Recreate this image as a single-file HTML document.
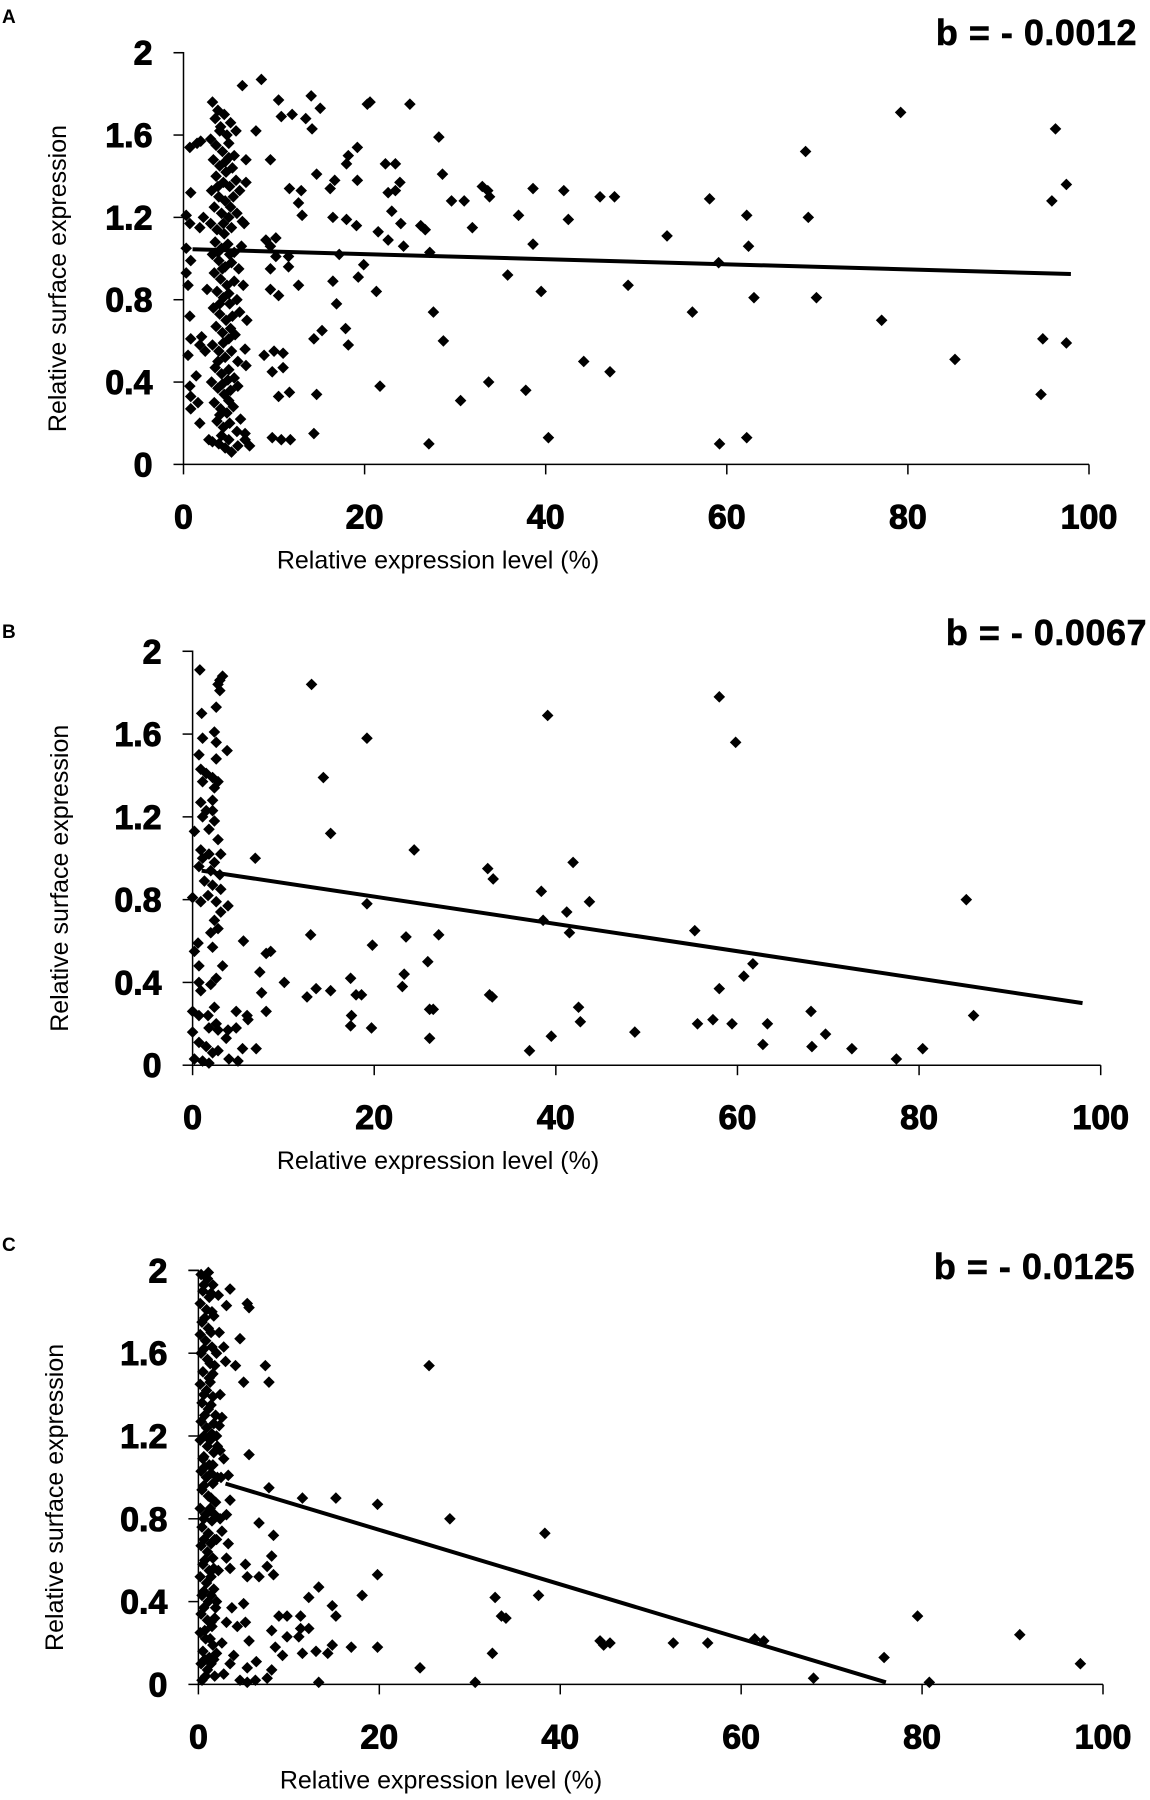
<!DOCTYPE html>
<html><head><meta charset="utf-8">
<style>
html,body{margin:0;padding:0;background:#fff;}
svg{display:block;font-family:"Liberation Sans",Arial,sans-serif;}
</style></head>
<body>
<svg id="fig" width="1150" height="1800" viewBox="0 0 1150 1800" xmlns="http://www.w3.org/2000/svg"></svg>
<script>
const xTicks = [0,20,40,60,80,100];
const yTicks = [0,0.4,0.8,1.2,1.6,2];
const yTickLabels = ["0","0.4","0.8","1.2","1.6","2"];
const panelLetters = ["A","B","C"];
const slopeLabels = ["b = - 0.0012","b = - 0.0067","b = - 0.0125"];
const lineA = [[1,1.045],[98,0.925]];
const lineB = [[1,0.94],[98,0.30]];
const lineC = [[3,0.97],[76,0.01]];

const pointsA = [[8.6,1.87],[6.5,1.84],[10.5,1.77],[10.8,1.69],[12,1.70],[14.1,1.79],[15.1,1.73],[13.5,1.68],[14.2,1.63],[8,1.62],[9.6,1.48],[6.9,1.48],[20.3,1.75],[20.6,1.76],[19.2,1.54],[18.2,1.50],[18,1.46],[22.3,1.46],[23.4,1.46],[14.7,1.41],[16.7,1.38],[16.2,1.34],[11.7,1.34],[13,1.33],[12.7,1.27],[13.1,1.21],[19.2,1.38],[22.6,1.32],[16.5,1.20],[18,1.19],[19.1,1.16],[21.5,1.13],[22.6,1.09],[6.7,1.17],[9.1,1.09],[10.2,1.10],[9.6,1.06],[10.2,1.01],[11.6,1.01],[11.6,0.96],[9.6,0.95],[17.2,1.02],[19.9,0.97],[19.3,0.91],[21.3,0.84],[16.5,0.89],[12.7,0.87],[10.5,0.82],[9.6,0.85],[16.9,0.78],[17.9,0.66],[15.3,0.65],[14.4,0.61],[18.2,0.58],[8.9,0.53],[10,0.55],[11,0.54],[11,0.47],[9.8,0.45],[6.9,0.48],[10.5,0.33],[11.7,0.35],[14.7,0.34],[21.7,0.38],[9.8,0.13],[10.8,0.12],[11.8,0.12],[14.4,0.15],
[23.9,1.37],[25,1.75],[28.2,1.59],[28.6,1.41],[29.6,1.28],[31,1.28],[23.4,1.33],[26.7,1.14],[26.2,1.16],[27.2,1.03],[24.3,1.06],[23,1.23],[24,1.17],[27.6,0.74],[28.7,0.60],[33,1.35],[33.6,1.33],[33.8,1.30],[31.9,1.15],[35.8,0.92],[37,1.21],[39.5,0.84],[38.6,1.34],[42,1.33],[42.5,1.19],[38.6,1.07],[46,1.30],[47.6,1.30],[49.1,0.87],[44.2,0.50],[47.1,0.45],[30.6,0.31],[33.7,0.40],[37.8,0.36],[27.1,0.10],[40.3,0.13],[53.4,1.11],[56.2,0.74],[58.1,1.29],[59.1,0.98],[59.2,0.10],[62.2,1.21],[62.4,1.06],[62.2,0.13],[63,0.81],[68.7,1.52],[69,1.20],[69.9,0.81],[77.1,0.70],[79.2,1.71],[85.2,0.51],[94.7,0.34],[94.9,0.61],[96.3,1.63],[95.9,1.28],[97.5,1.36],[97.5,0.59],
[0.7,1.54],[0.8,1.32],[0.3,1.21],[0.7,1.17],[1.8,1.15],[0.3,1.05],[0.8,0.99],[0.3,0.93],[0.5,0.87],[0.7,0.72],[0.8,0.61],[1.8,0.58],[0.5,0.53],[0.7,0.38],[0.8,0.33],[0.8,0.27],[1.8,0.20],[1.4,0.43],[1.9,1.57],
[3.2,1.76],[3.8,1.72],[4.5,1.70],[5.2,1.66],[5.8,1.62],[3.5,1.68],[4.1,1.64],[4.8,1.60],[3.0,1.58],[3.6,1.55],[4.3,1.52],[5.0,1.56],[5.6,1.50],[3.3,1.48],[4.0,1.45],[4.7,1.42],[5.4,1.44],[3.6,1.40],[4.4,1.37],[5.1,1.35],[5.8,1.38],[3.1,1.33],[3.9,1.30],[4.6,1.28],[5.5,1.30],[6.2,1.33],[3.4,1.25],[4.2,1.22],[5.0,1.20],[5.9,1.22],[3.0,1.17],[3.7,1.14],[4.5,1.12],[5.3,1.15],[6.5,1.18],[3.5,1.08],[4.2,1.05],[4.9,1.07],[5.6,1.03],[6.4,1.06],[3.2,1.02],[3.9,0.99],[4.6,0.96],[5.3,0.98],[6.1,0.95],[3.4,0.93],[4.1,0.90],[4.8,0.87],[5.6,0.89],[6.6,0.87],[3.7,0.84],[4.4,0.81],[5.1,0.78],[5.9,0.80],[3.3,0.76],[4.0,0.73],[4.7,0.70],[5.4,0.72],[6.2,0.74],[3.6,0.67],[4.3,0.64],[5.0,0.61],[5.7,0.63],[3.2,0.58],[3.9,0.55],[4.6,0.52],[5.3,0.55],[6.0,0.50],[3.5,0.47],[4.2,0.44],[4.9,0.41],[5.6,0.42],[3.1,0.40],[3.8,0.37],[4.5,0.34],[5.2,0.36],[6.0,0.38],[3.4,0.30],[4.1,0.27],[4.8,0.25],[5.5,0.28],[6.3,0.22],[3.7,0.21],[4.4,0.18],[5.1,0.20],[5.9,0.16],[6.8,0.15],[3.2,0.11],[3.9,0.10],[4.6,0.08],[5.3,0.06],[6.0,0.09],[6.8,0.12],[7.3,0.09],[2.8,0.12],[1.5,1.56],[2.2,1.20],[2.6,0.85],[2.4,0.55],[1.6,0.30],[2.0,0.62],[6.9,1.37],[7.0,0.70],[6.8,0.56],
[4.0,1.62],[4.6,1.47],[3.8,1.35],[4.4,1.17],[3.8,1.03],[4.3,0.95],[4.0,0.78],[4.4,0.59],[3.8,0.50],[4.3,0.39],[4.0,0.24],[4.2,0.14],[5.0,1.49],[5.2,1.25],[5.1,1.02],[5.0,0.83],[5.2,0.66],[5.0,0.46],[5.0,0.31],[5.0,0.12]];

const pointsB = [[0.8,1.91],[3.3,1.88],[3,1.86],[2.8,1.84],[3,1.81],[1,1.70],[2.6,1.73],[1.1,1.58],[2.4,1.61],[2.6,1.56],[3.8,1.52],[0.7,1.50],[2.6,1.48],[0.9,1.43],[1.5,1.41],[2.2,1.39],[2.8,1.37],[1.1,1.37],[2.4,1.34],[2.2,1.28],[0.9,1.27],[1.5,1.23],[2.2,1.23],[1.1,1.20],[2.4,1.18],[1.8,1.14],[0.2,1.13],[2.8,1.09],[0.9,1.04],[1.8,1.02],[3.1,1.02],[1.1,1.00],[2.4,0.98],[0.7,0.96],[2,0.94],[3,0.92],[1.3,0.89],[2.2,0.87],[3.1,0.85],[0,0.81],[0.9,0.79],[1.7,0.82],[2.6,0.79],[3.9,0.77],[3.1,0.74],[2.4,0.70],[2.8,0.66],[2,0.64],[0.6,0.59],[2.2,0.57],[0.2,0.55],[0.7,0.48],[3.3,0.48],[2.6,0.42],[2,0.39],[0.7,0.40],[0.9,0.36],[0,0.26],[0.7,0.24],[1.7,0.24],[2.4,0.28],[2.6,0.20],[1.8,0.18],[2.8,0.17],[0,0.16],[3.9,0.17],[3.7,0.13],[0.7,0.11],[1.5,0.09],[2.2,0.06],[0.2,0.03],[1.1,0.02],[1.8,0.01],[2.8,0.07],[4,0.03],[4.8,0.26],[6,0.24],[6.1,0.22],[4.8,0.18],[5,0.02],[5.5,0.08],[7,0.08],[5.6,0.60],[6.9,1.00],[8.1,0.54],[8.6,0.55],[7.6,0.35],[8.1,0.26],
[13.1,1.84],[14.4,1.39],[15.2,1.12],[19.2,1.58],[19.2,0.78],[13,0.63],[10.1,0.40],[12.6,0.33],[13.6,0.37],[15.2,0.36],[7.4,0.45],[17.4,0.42],[17.5,0.24],[17.4,0.19],[18,0.34],[18.6,0.34],[19.7,0.18],[19.8,0.58],[23.5,0.62],[23.3,0.44],[23.1,0.38],[24.4,1.04],[25.9,0.50],[26.1,0.27],[26.1,0.13],[27.1,0.63],[26.5,0.27],[32.5,0.95],[33.1,0.90],[32.7,0.34],[33,0.33],[37.1,0.07],[38.4,0.84],[39.1,1.69],[39.5,0.14],[41.2,0.74],[41.9,0.98],[41.5,0.64],[42.5,0.28],[42.7,0.21],[43.7,0.79],[38.6,0.70],[48.7,0.16],[55.3,0.65],[55.6,0.20],[57.3,0.22],[58,1.78],[58,0.37],[59.4,0.20],[59.8,1.56],[60.7,0.43],[61.7,0.49],[62.8,0.10],[63.3,0.20],[68.1,0.26],[68.2,0.09],[69.7,0.15],[72.6,0.08],[77.5,0.03],[80.4,0.08],[85.2,0.80],[86,0.24]];

const pointsC = [[0.3,1.98],[1.0,1.96],[1.6,1.93],[0.5,1.90],[1.2,1.87],[0.2,1.84],[0.9,1.81],[1.7,1.78],[0.4,1.75],[1.1,1.72],[0.2,1.69],[0.8,1.66],[1.5,1.63],[0.3,1.60],[1.0,1.57],[1.8,1.54],[0.5,1.51],[1.2,1.48],[0.2,1.45],[0.9,1.42],[1.6,1.39],[0.4,1.36],[1.1,1.33],[1.9,1.30],[0.3,1.27],[0.9,1.24],[1.5,1.21],[0.2,1.18],[1.0,1.15],[1.7,1.12],[0.5,1.09],[1.2,1.06],[0.3,1.03],[0.9,1.00],[1.6,0.97],[0.4,0.94],[1.1,0.91],[1.9,0.88],[0.2,0.85],[0.8,0.82],[1.5,0.79],[0.4,0.76],[1.1,0.73],[1.8,0.70],[0.3,0.67],[1.0,0.64],[1.6,0.61],[0.5,0.58],[1.2,0.55],[0.2,0.52],[0.9,0.49],[1.7,0.46],[0.4,0.43],[1.1,0.40],[1.9,0.37],[0.3,0.34],[1.0,0.31],[1.5,0.28],[0.2,0.25],[0.8,0.22],[1.6,0.19],[0.5,0.16],[1.2,0.13],[0.3,0.10],[1.0,0.07],[1.8,0.04],[0.4,0.02],[2.3,1.70],[2.4,1.40],[2.5,1.00],[2.2,0.55],[2.6,0.20],[2.4,0.80],[2.3,1.25],[0.7,1.30],[0.6,0.70],[1.4,0.90],[1.3,1.55],[1.4,0.30],[0.6,1.10],
[0.6,1.93],[1.4,1.89],[0.7,1.77],[1.4,1.70],[0.6,1.62],[1.3,1.46],[0.6,1.40],[1.4,1.35],[0.6,1.20],[1.3,1.18],[0.7,1.05],[1.4,1.02],[0.6,0.96],[1.3,0.85],[0.6,0.80],[1.4,0.68],[0.7,0.60],[1.4,0.52],[0.6,0.45],[1.4,0.43],[0.6,0.37],[1.3,0.22],[0.7,0.26],[1.4,0.10],[0.7,0.12],[0.8,0.04],[1.5,1.80],[1.6,1.50],[1.7,1.26],[1.6,1.06],[1.8,0.82],[1.7,0.56],[1.8,0.32],[1.7,0.12],[2.0,1.60],[2.1,1.00],[2.0,0.40],[2.0,0.70],[2.1,1.15],[2.0,0.15],
[1.1,1.99],[2.2,1.88],[3.5,1.91],[3.1,1.83],[5.4,1.84],[5.6,1.82],[4.6,1.67],[2.8,1.63],[3,1.56],[4.1,1.54],[7.4,1.54],[5,1.46],[7.8,1.46],[2.6,1.29],[2,1.2],[2.4,1.13],[5.6,1.11],[2.8,1.09],[3.3,1.01],[7.8,0.95],[11.5,0.90],[15.2,0.90],[19.8,0.87],[3.5,0.89],[3.1,0.82],[6.7,0.78],[8.3,0.72],[2.6,0.74],[3.3,0.68],[3.1,0.61],[8.1,0.62],[5.2,0.58],[7.6,0.57],[3.5,0.56],[5.4,0.52],[6.7,0.52],[8.3,0.53],[19.8,0.53],[13.3,0.47],[12.2,0.42],[18.1,0.43],[14.8,0.38],[5,0.39],[3.7,0.37],[15.2,0.33],[9.8,0.33],[11.3,0.33],[8.9,0.33],[5.2,0.30],[4.3,0.28],[3.1,0.30],[11.3,0.27],[8.1,0.26],[12.2,0.27],[9.8,0.23],[11.1,0.23],[5.6,0.21],[14.8,0.19],[16.9,0.18],[19.8,0.18],[8.5,0.18],[11.5,0.15],[13,0.16],[14.3,0.15],[9.3,0.14],[6.4,0.11],[5.4,0.08],[3.5,0.10],[8.1,0.07],[7.6,0.03],[6.3,0.02],[4.6,0.02],[5.4,0.01],[13.3,0.01],[2.8,0.05],[3.9,0.14],
[25.5,1.54],[27.8,0.80],[38.3,0.73],[24.5,0.08],[32.8,0.42],[33.5,0.33],[34,0.32],[32.5,0.15],[30.6,0.01],[37.6,0.43],[44.4,0.21],[44.8,0.19],[45.5,0.20],[52.5,0.20],[56.3,0.20],[61.5,0.22],[62.5,0.21],[68,0.03],[75.8,0.13],[79.5,0.33],[80.8,0.01],[90.8,0.24],[97.5,0.10]];

const panels = [
  {key:"a", pts:pointsA, line:lineA, x0:183.5, x1:1089, y0:464.4, y2:52.7, bx:1137, by:32, ly:16, tx:58, titleX:438},
  {key:"b", pts:pointsB, line:lineB, x0:192.6, x1:1100.7, y0:1065.2, y2:651.3, bx:1147, by:632, ly:631, tx:60, titleX:438},
  {key:"c", pts:pointsC, line:lineC, x0:198.4, x1:1103, y0:1684.4, y2:1270.4, bx:1135, by:1266, ly:1244, tx:55, titleX:441}
];
const NS = "http://www.w3.org/2000/svg";
const svg = document.getElementById("fig");
function mk(tag, attrs, parent){const e=document.createElementNS(NS,tag);for(const k in attrs)e.setAttribute(k,attrs[k]);(parent||svg).appendChild(e);return e;}

panels.forEach((p, i) => {
  const sx = v => p.x0 + (p.x1 - p.x0) * v / 100;
  const sy = v => p.y0 - (p.y0 - p.y2) * v / 2;
  const g = mk("g", {});
  
  

  const letter = mk("text", {x:2, y:p.ly+7, "font-size":19, "font-weight":"bold"}, g);
  letter.textContent = panelLetters[i];
  
  

  const slope = mk("text", {x:p.bx, y:p.by+13, "font-size":36, "font-weight":"bold", "text-anchor":"end", stroke:"#000", "stroke-width":0.6, "letter-spacing":0.5}, g);
  slope.textContent = slopeLabels[i];
  
  

  const ax = mk("path", {d:`M${p.x0-10},${p.y2} H${p.x0} V${p.y0} H${p.x1}`, stroke:"#000", "stroke-width":1.5, fill:"none"}, g);
  
  

  yTicks.forEach((t, k) => {
    const y = sy(t);
    const tk = mk("line", {x1:p.x0-10, x2:p.x0, y1:y, y2:y, stroke:"#000", "stroke-width":1.5}, g);
    
    
    const lb = mk("text", {x:p.x0-31, y:y+12, "font-size":34, "font-weight":"bold", "text-anchor":"end", stroke:"#000", "stroke-width":1}, g);
    lb.textContent = yTickLabels[k];
    
    
  });
  xTicks.forEach(t => {
    const x = sx(t);
    const tk = mk("line", {x1:x, x2:x, y1:p.y0, y2:p.y0+10, stroke:"#000", "stroke-width":1.5}, g);
    
    
    const lb = mk("text", {x:x, y:p.y0+64, "font-size":34, "font-weight":"bold", "text-anchor":"middle", stroke:"#000", "stroke-width":1}, g);
    lb.textContent = String(t);
    
    
  });

  const xt = mk("text", {x:p.titleX, y:p.y0+104, "font-size":25, "text-anchor":"middle"}, g);
  xt.textContent = "Relative expression level (%)";
  
  
  const ymid = (p.y0+p.y2)/2 + 20;
  const yt = mk("text", {x:p.tx+8, y:ymid, "font-size":25, "text-anchor":"middle", transform:`rotate(-90 ${p.tx+8} ${ymid})`}, g);
  yt.textContent = "Relative surface expression";
  
  

  p.pts.forEach(pt => {
    const cx = sx(pt[0]), cy = sy(pt[1]), r = 5.8;
    const d = mk("path", {d:`M${cx},${cy-r} L${cx+r},${cy} L${cx},${cy+r} L${cx-r},${cy} Z`, fill:"#000"}, g);
    
    
  });

  const rl = mk("line", {x1:sx(p.line[0][0]), y1:sy(p.line[0][1]), x2:sx(p.line[1][0]), y2:sy(p.line[1][1]), stroke:"#000", "stroke-width":4}, g);
  
  
});
</script>
</body></html>
